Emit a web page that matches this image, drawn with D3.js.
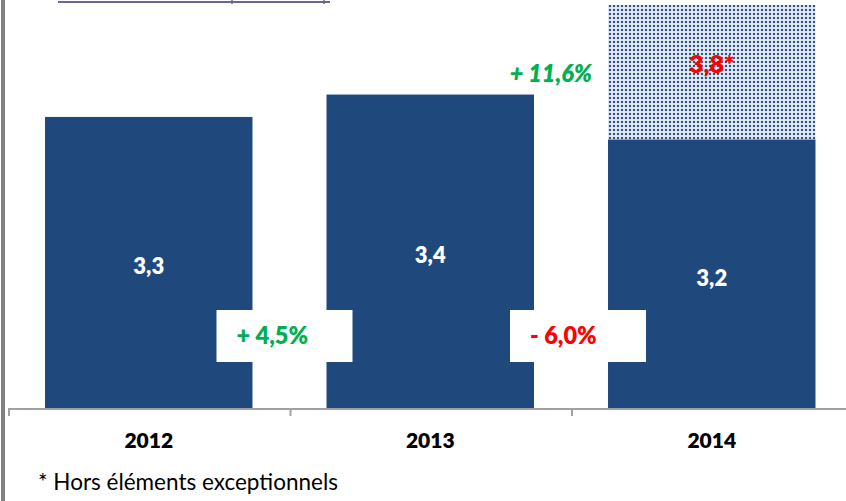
<!DOCTYPE html>
<html>
<head>
<meta charset="utf-8">
<script src="https://cdn.jsdelivr.net/npm/d3@7/dist/d3.min.js"></script>
<style>
  html, body { margin: 0; padding: 0; background: #fff; }
  svg { display: block; }
  text { font-family: Lato, "Open Sans", sans-serif; }
</style>
</head>
<body>
<script>
// ---- data ----
const years = ["2012", "2013", "2014"];
const values = [3.3, 3.4, 3.2];
const exceptional = [0, 0, 0.6];           // stacked dotted part (2014 total 3.8)
const valueLabels = ["3,3", "3,4", "3,2"];
const totalLabels = ["", "", "3,8*"];
const changeLabels = ["+ 4,5%", "- 6,0%"];
const changeColors = ["#00b050", "#ff0000"];
const extraChangeLabel = "+ 11,6%";
const footnote = "* Hors éléments exceptionnels";

// ---- layout ----
const W = 846, H = 501;
const baseY = 408, topY = 5;
const barColor = "#1f497d";
const BOLD = 800;

const svg = d3.select("body").append("svg")
  .attr("width", W).attr("height", H);

const defs = svg.append("defs");
const pat = defs.append("pattern")
  .attr("id", "dots").attr("patternUnits", "userSpaceOnUse")
  .attr("width", 4).attr("height", 4);
pat.append("rect").attr("width", 4).attr("height", 4).attr("fill", "#fff");
pat.append("rect").attr("x", 0.5).attr("y", 0.5).attr("width", 3).attr("height", 3).attr("fill", "#a9bbd3");
pat.append("rect").attr("x", 1).attr("y", 1).attr("width", 2).attr("height", 2).attr("fill", "#2f5889");

const x = d3.scaleBand().domain(years).range([8, 852.5])
  .paddingInner(0.263).paddingOuter(0.1315);
const y = d3.scaleLinear().domain([2, 3.8]).range([baseY, topY]);

const rows = years.map((yr, i) => ({
  year: yr, v: values[i], ex: exceptional[i],
  label: valueLabels[i], total: totalLabels[i]
}));

// bars
svg.append("g").selectAll("rect").data(rows).join("rect")
  .attr("x", d => x(d.year)).attr("width", x.bandwidth())
  .attr("y", d => y(d.v)).attr("height", d => y(2) - y(d.v))
  .attr("fill", barColor);

// stacked exceptional part
svg.append("g").selectAll("rect").data(rows.filter(d => d.ex > 0)).join("rect")
  .attr("x", d => x(d.year)).attr("width", x.bandwidth())
  .attr("y", d => y(d.v + d.ex)).attr("height", d => y(d.v) - y(d.v + d.ex))
  .attr("fill", "url(#dots)");

// value labels
svg.append("g").selectAll("text").data(rows).join("text")
  .attr("x", d => x(d.year) + x.bandwidth() / 2)
  .attr("y", d => (y(d.v) + y(2)) / 2 + 12)
  .attr("text-anchor", "middle")
  .attr("fill", "#fff").attr("font-weight", BOLD).attr("font-size", 22)
  .text(d => d.label);

svg.append("g").selectAll("text").data(rows.filter(d => d.total)).join("text")
  .attr("x", d => x(d.year) + x.bandwidth() / 2)
  .attr("y", d => (y(d.v) + y(d.v + d.ex)) / 2 + 1)
  .attr("text-anchor", "middle")
  .attr("fill", "#ff0000").attr("font-weight", BOLD).attr("font-size", 25)
  .text(d => d.total);

// axis
const bounds = d3.range(years.length + 1).map(i => x.range()[0] + i * x.step());
const axis = svg.append("g");
axis.append("line").attr("x1", bounds[0]).attr("x2", W)
  .attr("y1", baseY + 1).attr("y2", baseY + 1)
  .attr("stroke", "#a0a0a0").attr("stroke-width", 2);
axis.selectAll("line.tick").data(bounds.slice(0, 3)).join("line")
  .attr("class", "tick")
  .attr("x1", d => d + 1).attr("x2", d => d + 1)
  .attr("y1", baseY).attr("y2", baseY + 8)
  .attr("stroke", "#a0a0a0").attr("stroke-width", 2);
axis.selectAll("text").data(years).join("text")
  .attr("x", d => x(d) + x.bandwidth() / 2)
  .attr("y", 448)
  .attr("text-anchor", "middle")
  .attr("font-weight", BOLD).attr("font-size", 21).attr("fill", "#000")
  .text(d => d);

// change boxes
const boxOffsets = [-5, 7];
const boxW = 136, boxTop = 310, boxH = 52;
const gaps = [1, 2].map(i => bounds[i]);
const cg = svg.append("g");
changeLabels.forEach((lab, i) => {
  const cx = gaps[i] + boxOffsets[i];
  cg.append("rect").attr("x", cx - boxW / 2).attr("y", boxTop)
    .attr("width", boxW).attr("height", boxH).attr("fill", "#fff");
  cg.append("text").attr("x", cx - boxW / 2 + 20).attr("y", boxTop + 34)
    .attr("fill", changeColors[i]).attr("font-weight", BOLD).attr("font-size", 23.5)
    .text(lab);
});

svg.append("text").attr("x", gaps[1] + 21).attr("y", 82)
  .attr("text-anchor", "end")
  .attr("fill", "#00b050").attr("font-weight", BOLD).attr("font-style", "italic")
  .attr("font-size", 23.5).text(extraChangeLabel);

// footnote
svg.append("text").attr("x", 38).attr("y", 490)
  .attr("font-size", 22.5).attr("fill", "#000").text(footnote);

// frame pieces
svg.append("line").attr("x1", 3).attr("x2", 3).attr("y1", 0).attr("y2", H)
  .attr("stroke", "#808080").attr("stroke-width", 4);
svg.append("line").attr("x1", 58).attr("x2", 330).attr("y1", 2).attr("y2", 2)
  .attr("stroke", "#6e6690").attr("stroke-width", 2);
[232, 324].forEach(tx => svg.append("line").attr("x1", tx).attr("x2", tx)
  .attr("y1", 0).attr("y2", 4).attr("stroke", "#6e6690").attr("stroke-width", 1.5));
</script>
</body>
</html>
